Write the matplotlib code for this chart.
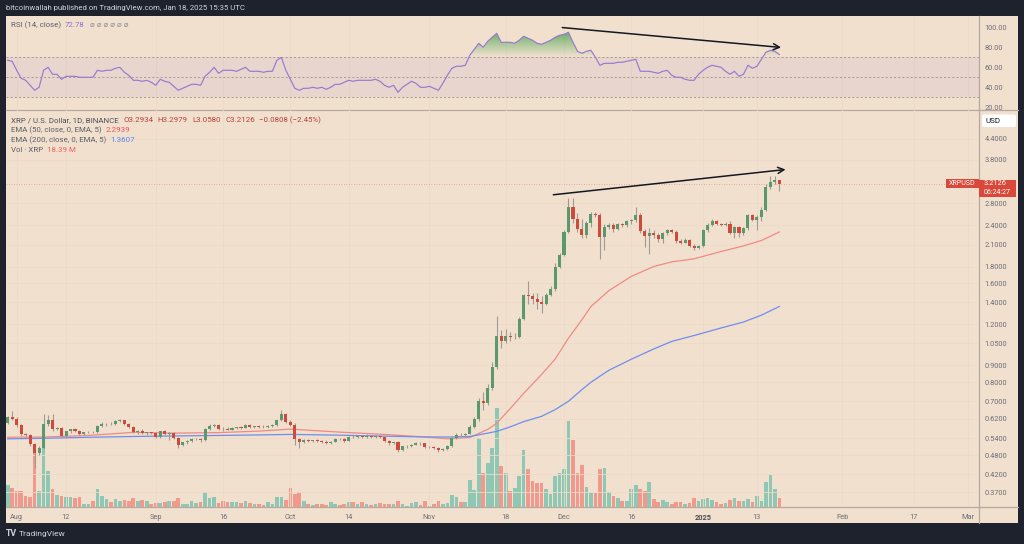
import numpy as np
import pandas as pd
import matplotlib
matplotlib.use('Agg')
import matplotlib.pyplot as plt
from matplotlib.colors import LinearSegmentedColormap
from matplotlib.path import Path
from matplotlib.patches import Rectangle, FancyBboxPatch
from matplotlib.lines import Line2D

plt.rcParams['font.family'] = ['Roboto', 'DejaVu Sans']

# ---------------- data ----------------
dates = pd.date_range('2024-07-30', '2025-01-18', freq='D')
ref_day = pd.Timestamp('2024-08-01')

opens = [.600, .626, .620, .593, .557, .551, .519, .487, .504, .596,
         .614, .576, .580, .547, .567, .575, .567, .558, .563, .565,
         .564, .590, .596, .598, .596, .610, .612, .597, .584, .564,
         .567, .560, .563, .561, .545, .567, .557, .560, .541, .516,
         .525, .530, .537, .539, .532, .576, .590, .593, .578, .576,
         .574, .580, .583, .581, .592, .585, .587, .586, .584, .588,
         .592, .612, .640, .607, .593, .536, .528, .533, .530, .532,
         .530, .527, .524, .527, .538, .537, .531, .546, .544, .547,
         .545, .548, .546, .548, .545, .530, .522, .525, .498, .510,
         .513, .517, .522, .521, .507, .509, .506, .498, .501, .512,
         .541, .554, .552, .558, .586, .618, .700, .690, .770, .890,
         1.110, 1.065, 1.110, 1.095, 1.100, 1.250, 1.470, 1.460, 1.430, 1.400,
         1.385, 1.470, 1.540, 1.800, 1.950, 2.300, 2.740, 2.520, 2.340, 2.240,
         2.440, 2.610, 2.590, 2.210, 2.380, 2.410, 2.340, 2.420, 2.410, 2.470,
         2.490, 2.580, 2.310, 2.230, 2.280, 2.250, 2.190, 2.270, 2.320, 2.300,
         2.150, 2.130, 2.170, 2.080, 2.050, 2.080, 2.320, 2.410, 2.470, 2.430,
         2.410, 2.430, 2.280, 2.370, 2.270, 2.350, 2.580, 2.500, 2.550, 2.680,
         3.150, 3.250, 3.2934]
highs = [.630, .655, .628, .598, .562, .556, .522, .512, .640, .635,
         .640, .584, .585, .570, .578, .580, .572, .566, .567, .570,
         .594, .605, .602, .604, .614, .618, .616, .600, .588, .572,
         .575, .566, .566, .565, .570, .572, .566, .563, .545, .528,
         .534, .540, .543, .542, .580, .595, .596, .597, .586, .585,
         .584, .586, .587, .596, .595, .590, .591, .592, .591, .595,
         .616, .659, .645, .612, .600, .542, .536, .537, .535, .536,
         .534, .532, .530, .540, .541, .540, .550, .552, .552, .553,
         .555, .552, .552, .551, .549, .533, .528, .530, .512, .516,
         .519, .526, .525, .523, .513, .512, .508, .504, .515, .545,
         .560, .559, .562, .592, .625, .715, .745, .790, .920, 1.27,
         1.150, 1.160, 1.140, 1.130, 1.260, 1.480, 1.630, 1.500, 1.490, 1.460,
         1.500, 1.570, 1.840, 1.980, 2.330, 2.900, 2.900, 2.620, 2.520, 2.470,
         2.640, 2.630, 2.620, 2.420, 2.450, 2.450, 2.450, 2.440, 2.500, 2.520,
         2.740, 2.620, 2.340, 2.350, 2.320, 2.270, 2.300, 2.340, 2.340, 2.330,
         2.180, 2.200, 2.190, 2.110, 2.100, 2.340, 2.440, 2.520, 2.490, 2.450,
         2.460, 2.470, 2.390, 2.390, 2.370, 2.600, 2.600, 2.580, 2.730, 3.200,
         3.390, 3.400, 3.2979]
lows = [.595, .614, .585, .548, .545, .512, .440, .480, .500, .588,
        .570, .572, .545, .541, .562, .564, .553, .554, .560, .560,
        .560, .586, .590, .592, .593, .605, .594, .580, .560, .558,
        .556, .553, .558, .540, .542, .553, .535, .538, .505, .513,
        .520, .527, .533, .525, .530, .572, .585, .572, .570, .572,
        .571, .576, .578, .579, .582, .581, .582, .580, .581, .583,
        .588, .608, .602, .588, .515, .505, .522, .526, .526, .527,
        .524, .520, .520, .525, .533, .528, .529, .540, .541, .542,
        .543, .543, .543, .541, .527, .517, .518, .490, .494, .506,
        .509, .514, .515, .503, .503, .502, .490, .494, .497, .508,
        .536, .548, .548, .555, .580, .610, .660, .680, .760, .880,
        1.020, 1.050, 1.070, 1.080, 1.090, 1.240, 1.380, 1.380, 1.340, 1.300,
        1.370, 1.460, 1.520, 1.780, 1.940, 2.270, 2.450, 2.300, 2.200, 2.200,
        2.380, 2.550, 1.900, 2.020, 2.340, 2.300, 2.320, 2.380, 2.380, 2.420,
        2.460, 2.280, 2.070, 1.960, 2.200, 2.140, 2.130, 2.240, 2.270, 2.120,
        2.110, 2.120, 2.060, 2.020, 2.030, 2.070, 2.300, 2.390, 2.400, 2.390,
        2.390, 2.260, 2.200, 2.220, 2.240, 2.330, 2.480, 2.320, 2.480, 2.650,
        3.100, 3.220, 3.0580]
closes = [.626, .620, .593, .557, .551, .519, .487, .504, .596, .614,
          .576, .580, .547, .567, .575, .567, .558, .563, .565, .564,
          .590, .596, .598, .596, .610, .612, .597, .584, .564, .567,
          .560, .563, .561, .545, .567, .557, .560, .541, .516, .525,
          .530, .537, .539, .532, .576, .590, .593, .578, .576, .574,
          .580, .583, .581, .592, .585, .587, .586, .584, .588, .592,
          .612, .640, .607, .593, .536, .528, .533, .530, .532, .530,
          .527, .524, .527, .538, .537, .531, .546, .544, .547, .545,
          .548, .546, .548, .545, .530, .522, .525, .498, .510, .513,
          .517, .522, .521, .507, .509, .506, .498, .501, .512, .541,
          .554, .552, .558, .586, .618, .700, .690, .770, .890, 1.110,
          1.065, 1.110, 1.095, 1.100, 1.250, 1.470, 1.460, 1.430, 1.400, 1.385,
          1.470, 1.540, 1.800, 1.950, 2.300, 2.740, 2.520, 2.340, 2.240, 2.440,
          2.610, 2.590, 2.210, 2.380, 2.410, 2.340, 2.420, 2.410, 2.470, 2.490,
          2.580, 2.310, 2.230, 2.280, 2.250, 2.190, 2.270, 2.320, 2.300, 2.150,
          2.130, 2.170, 2.080, 2.050, 2.080, 2.320, 2.410, 2.470, 2.430, 2.410,
          2.430, 2.280, 2.370, 2.270, 2.350, 2.580, 2.500, 2.550, 2.680, 3.150,
          3.250, 3.2934, 3.2126]
# volume, millions of XRP
volumes = [46, 40, 33, 33, 22, 20, 114, 33, 124, 75,
           38, 24, 22, 21, 20, 18, 20, 6, 5, 11,
           37, 23, 16, 9, 16, 13, 14, 11, 18, 13,
           14, 11, 6, 8, 7, 9, 13, 11, 18, 6,
           6, 11, 7, 9, 32, 18, 20, 7, 11, 9,
           9, 9, 7, 13, 7, 6, 5, 4, 9, 6,
           20, 20, 14, 39, 27, 32, 11, 6, 4, 6,
           5, 4, 9, 6, 4, 6, 9, 9, 6, 9,
           6, 4, 6, 8, 6, 6, 6, 13, 6, 2,
           7, 9, 4, 12, 2, 5, 12, 6, 8, 25,
           20, 9, 9, 56, 35, 145, 70, 93, 124, 207,
           85, 70, 33, 39, 65, 120, 80, 55, 49, 49,
           37, 26, 64, 70, 80, 181, 141, 71, 87, 42,
           29, 29, 79, 82, 30, 22, 19, 13, 13, 37,
           46, 37, 33, 51, 17, 10, 15, 10, 5, 9,
           10, 5, 8, 18, 13, 17, 18, 15, 10, 6,
           7, 15, 18, 11, 12, 17, 10, 22, 13, 53,
           66, 37, 18.39]
rsi = [67, 66, 57, 49, 47, 42, 37, 40, 57, 60,
       53, 53, 48, 51, 51, 51, 50, 50, 50, 50,
       57, 56, 57, 57, 59, 60, 55, 52, 47, 47,
       46, 47, 45, 42, 48, 46, 45, 41, 37, 39,
       41, 43, 43, 42, 51, 55, 60, 54, 57, 57,
       57, 56, 58, 60, 56, 56, 56, 55, 56, 56,
       67, 70, 57, 48, 39, 37, 39, 39, 40, 39,
       40, 38, 40, 43, 43, 45, 47, 46, 47, 47,
       47, 47, 48, 46, 42, 40, 42, 35, 40, 43,
       46, 44, 40, 40, 41, 39, 37, 44, 52, 59,
       61, 61, 62, 72, 78, 84, 80, 86, 90, 94,
       85, 85, 85, 84, 87, 91, 89, 87, 84, 83,
       85, 87, 90, 92, 93, 95, 85, 76, 74, 76,
       77, 70, 62, 64, 64, 64, 65, 65, 66, 67,
       68, 56, 56, 56, 55, 54, 56, 57, 52, 50,
       50, 48, 47, 47, 53, 57, 60, 62, 61, 60,
       56, 53, 56, 51, 53, 62, 59, 61, 68, 75,
       77, 76, 72.78]

ema_dates = pd.to_datetime(['2024-07-30', '2024-08-07', '2024-08-17', '2024-08-27', '2024-09-05',
                            '2024-09-15', '2024-09-24', '2024-10-01', '2024-10-12', '2024-10-23',
                            '2024-11-01', '2024-11-05', '2024-11-10', '2024-11-14', '2024-11-16',
                            '2024-11-19', '2024-11-22', '2024-11-26', '2024-11-29', '2024-12-02',
                            '2024-12-05', '2024-12-07', '2024-12-11', '2024-12-16', '2024-12-21',
                            '2024-12-25', '2024-12-30', '2025-01-05', '2025-01-10', '2025-01-14',
                            '2025-01-18'])
ema50 = [0.544, 0.545, 0.551, 0.563, 0.560, 0.562, 0.568, 0.576, 0.564, 0.554,
         0.544, 0.538, 0.543, 0.575, 0.600, 0.665, 0.740, 0.845, 0.940, 1.090,
         1.240, 1.360, 1.520, 1.680, 1.800, 1.860, 1.900, 2.000, 2.080, 2.160, 2.2939]
ema200 = [0.538, 0.540, 0.544, 0.547, 0.549, 0.551, 0.553, 0.555, 0.552, 0.548,
          0.545, 0.545, 0.547, 0.560, 0.567, 0.585, 0.607, 0.630, 0.660, 0.700,
          0.760, 0.800, 0.870, 0.940, 1.010, 1.065, 1.110, 1.170, 1.220, 1.280, 1.3607]

tick_dates = pd.to_datetime(['2024-08-01', '2024-08-12', '2024-09-01', '2024-09-16', '2024-10-01',
                             '2024-10-14', '2024-11-01', '2024-11-18', '2024-12-01', '2024-12-16',
                             '2025-01-01', '2025-01-13', '2025-02-01', '2025-02-17', '2025-03-01'])
tick_labels = ['Aug', '12', 'Sep', '16', 'Oct', '14', 'Nov', '18', 'Dec', '16',
               '2025', '13', 'Feb', '17', 'Mar']
price_ticks = [4.4, 3.8, 2.8, 2.4, 2.1, 1.8, 1.6, 1.4, 1.2, 1.05, 0.9, 0.8, 0.7,
               0.62, 0.54, 0.48, 0.42, 0.37]
rsi_ticks = [100, 80, 60, 40, 20]

# trend lines drawn by the author (date, value)
price_arrow = (('2024-11-28', 2.97), ('2025-01-20', 3.56))
rsi_arrow = (('2024-11-30', 100.0), ('2025-01-19', 79.6))

# ---------------- styling ----------------
BG = '#f2e0cf'
DARK = '#1e222d'
GRID = '#eddac8'
SEP = '#b3a99f'
TXT = '#6b6e78'
UP, DOWN = '#5a986e', '#cf4a3b'
VUP, VDOWN = '#8ec8b5', '#f1998c'
WICK = '#a09a94'

W, H = 1024, 544
def fx(x):
    return x / W
def fy(y):
    return 1 - y / H

def day(d):
    return (pd.Timestamp(d) - ref_day).days

x = np.array((dates - ref_day).days)
o, h, l, c = map(np.array, (opens, highs, lows, closes))
up = c >= o

fig = plt.figure(figsize=(W / 100, H / 100), dpi=100, facecolor=DARK)
fig.patches.append(Rectangle((fx(6), fy(523)), fx(1018) - fx(6), fy(16) - fy(523),
                             transform=fig.transFigure, facecolor=BG, edgecolor='none', zorder=-10))

ax_rsi = fig.add_axes([fx(6), fy(109.5), fx(979) - fx(6), fy(16) - fy(109.5)])
ax_main = fig.add_axes([fx(6), fy(506.7), fx(979) - fx(6), fy(109.5) - fy(506.7)])
ax_vol = ax_main.twinx()
ax_main.set_zorder(2)
ax_vol.set_zorder(1)
for a in (ax_rsi, ax_main, ax_vol):
    a.patch.set_visible(False)
    for s in a.spines.values():
        s.set_visible(False)

xlim = (-2.38, 214.5)
tick_x = [day(t) for t in tick_dates]

# ---------- RSI pane ----------
ax_rsi.set_xlim(*xlim)
ax_rsi.set_ylim(17.8, 111.3)
ax_rsi.axhspan(30, 70, color='#7e57c2', alpha=0.08, lw=0)
for lv in (70, 50, 30):
    ax_rsi.axhline(lv, color='#9d918c', lw=0.6, dashes=(2.5, 2.5))
rsi_arr = np.array(rsi, dtype=float)
coll = ax_rsi.fill_between(x, 70, rsi_arr, where=rsi_arr > 70, interpolate=True,
                           facecolor='none', edgecolor='none')
grad_cmap = LinearSegmentedColormap.from_list(
    'ob', [(0.30, 0.69, 0.31, 0.0), (0.28, 0.60, 0.30, 0.95)])
grad = np.linspace(0, 1, 256).reshape(-1, 1)
im = ax_rsi.imshow(grad, extent=[xlim[0], xlim[1], 70, 100], origin='lower',
                   aspect='auto', cmap=grad_cmap, zorder=1)
clip = Path.make_compound_path(*coll.get_paths())
im.set_clip_path(clip, transform=ax_rsi.transData)
ax_rsi.plot(x, rsi_arr, color='#9679d2', lw=0.85, zorder=3)
ax_rsi.set_xlim(*xlim)
ax_rsi.set_ylim(17.8, 111.3)
ax_rsi.set_xticks(tick_x)
ax_rsi.set_xticklabels([])
ax_rsi.grid(True, axis='x', color=GRID, lw=0.6)
ax_rsi.set_axisbelow(True)
ax_rsi.yaxis.tick_right()
ax_rsi.set_yticks(rsi_ticks)
ax_rsi.set_yticklabels([f'{v:.2f}' for v in rsi_ticks])
ax_rsi.tick_params(length=0, labelsize=5.3, labelcolor=TXT, pad=3.8)
ax_rsi.annotate('', xy=(day(rsi_arrow[1][0]), rsi_arrow[1][1]),
                xytext=(day(rsi_arrow[0][0]), rsi_arrow[0][1]),
                arrowprops=dict(arrowstyle='->', color='#131722', lw=1.1, mutation_scale=11),
                annotation_clip=False)

# ---------- main pane ----------
ax_main.set_yscale('log')
ax_main.set_xlim(*xlim)
ax_main.set_ylim(0.3344, 5.41)

ax_vol.bar(x, volumes, width=0.82, color=np.where(up, VUP, VDOWN), lw=0)
ax_vol.set_ylim(0, 837)
ax_vol.set_yticks([])

ema_x = pd.Index(ema_dates - ref_day).days
ax_main.plot(ema_x, ema50, color='#f08a84', lw=0.9, zorder=2)
ax_main.plot(ema_x, ema200, color='#6d8ef0', lw=0.9, zorder=2)

ax_main.vlines(x, l, h, colors=WICK, lw=0.8, zorder=3)
body_h = np.maximum(np.abs(c - o), 0.003 * o)
ax_main.bar(x, body_h, bottom=np.minimum(o, c), width=0.68,
            color=np.where(up, UP, DOWN), lw=0, zorder=4)

ax_main.axhline(closes[-1], color='#e0786a', lw=0.6, ls=(0, (1, 2)), alpha=0.7, zorder=1)

ax_main.annotate('', xy=(day(price_arrow[1][0]), price_arrow[1][1]),
                 xytext=(day(price_arrow[0][0]), price_arrow[0][1]),
                 arrowprops=dict(arrowstyle='->', color='#131722', lw=1.1, mutation_scale=11),
                 annotation_clip=False, zorder=5)

ax_main.yaxis.tick_right()
ax_main.yaxis.set_minor_locator(matplotlib.ticker.NullLocator())
ax_main.set_yticks(price_ticks)
ax_main.set_yticklabels([f'{v:.4f}' for v in price_ticks])
ax_main.set_xticks(tick_x)
ax_main.set_xticklabels(tick_labels)
ax_main.tick_params(length=0, labelsize=5.3, labelcolor=TXT, pad=3.8)
ax_main.tick_params(axis='x', pad=5.0)
for t in ax_main.get_xticklabels():
    if t.get_text() == '2025':
        t.set_fontweight('bold')
        t.set_color('#4b4e57')
ax_main.grid(True, color=GRID, lw=0.6)
ax_main.set_axisbelow(True)

# ---------- separators ----------
for xs, ys in (([6, 1018], [109.5, 109.5]), ([6, 1018], [506.7, 506.7]), ([979, 979], [16, 523])):
    fig.lines.append(Line2D([fx(v) for v in xs], [fy(v) for v in ys], transform=fig.transFigure,
                            color=SEP, lw=0.9, zorder=0.5))

# ---------- texts ----------
renderer = fig.canvas.get_renderer()

def seq_text(xp, yp, parts, size=5.7):
    for s, col, gap in parts:
        t = fig.text(fx(xp), fy(yp), s, color=col, fontsize=size, va='center', ha='left')
        bb = t.get_window_extent(renderer=renderer)
        xp = bb.x1 + gap

fig.text(fx(6), fy(8), 'bitcoinwallah published on TradingView.com, Jan 18, 2025 15:35 UTC',
         color='#d1d4dc', fontsize=5.6, va='center', ha='left')
seq_text(11, 25, [('RSI (14, close)', '#5d6069', 4), ('72.78', '#8f6fd0', 5),
                  ('\u2300 \u2300 \u2300 \u2300 \u2300 \u2300', '#8a8c93', 0)])
red_txt = '#b5413a'
seq_text(11, 120, [('XRP / U.S. Dollar, 1D, BINANCE', '#4d4f57', 4.5),
                   ('O3.2934', red_txt, 4.5), ('H3.2979', red_txt, 4.5),
                   ('L3.0580', red_txt, 4.5), ('C3.2126', red_txt, 4.5),
                   ('\u22120.0808 (\u22122.45%)', red_txt, 0)])
seq_text(11, 130, [('EMA (50, close, 0, EMA, 5)', '#5d6069', 4), ('2.2939', '#f0555a', 0)])
seq_text(11, 140, [('EMA (200, close, 0, EMA, 5)', '#5d6069', 4), ('1.3607', '#5b82f0', 0)])
seq_text(11, 150.5, [('Vol \u00b7 XRP', '#5d6069', 4), ('18.39 M', '#f06262', 0)])

# USD box
fig.patches.append(FancyBboxPatch((fx(982), fy(127)), fx(1016) - fx(982), fy(114.5) - fy(127),
                                  boxstyle='round,pad=0,rounding_size=0.003',
                                  transform=fig.transFigure, facecolor='white', edgecolor='none'))
fig.text(fx(986), fy(121), 'USD', color='#131722', fontsize=5.8, va='center', ha='left')

# last price tags
fig.canvas.draw()
ypx = ax_main.transData.transform((0, closes[-1]))[1]
yt = H - ypx
tag_red = '#d9493b'
fig.patches.append(Rectangle((fx(979), fy(yt + 13.5)), fx(1016) - fx(979), 17.5 / H,
                             transform=fig.transFigure, facecolor=tag_red, edgecolor='none', zorder=3))
fig.patches.append(Rectangle((fx(946), fy(yt + 4.5)), fx(978.5) - fx(946), 9 / H,
                             transform=fig.transFigure, facecolor=tag_red, edgecolor='none', zorder=3))
fig.text(fx(962.2), fy(yt), 'XRPUSD', color='white', fontsize=5.0, va='center', ha='center', zorder=4)
fig.text(fx(984), fy(yt), f'{closes[-1]:.4f}', color='white', fontsize=5.3, va='center', ha='left', zorder=4)
fig.text(fx(984), fy(yt + 8.5), '06:24:27', color='white', fontsize=5.0, va='center', ha='left', zorder=4)

# footer logo
fig.text(fx(6), fy(534), 'TV', color='#d1d4dc', fontsize=6.3, fontweight='bold', va='center', ha='left')
fig.text(fx(19), fy(534), 'TradingView', color='#d1d4dc', fontsize=6.0, va='center', ha='left')

fig.savefig('out.png', dpi=100, facecolor=DARK)
